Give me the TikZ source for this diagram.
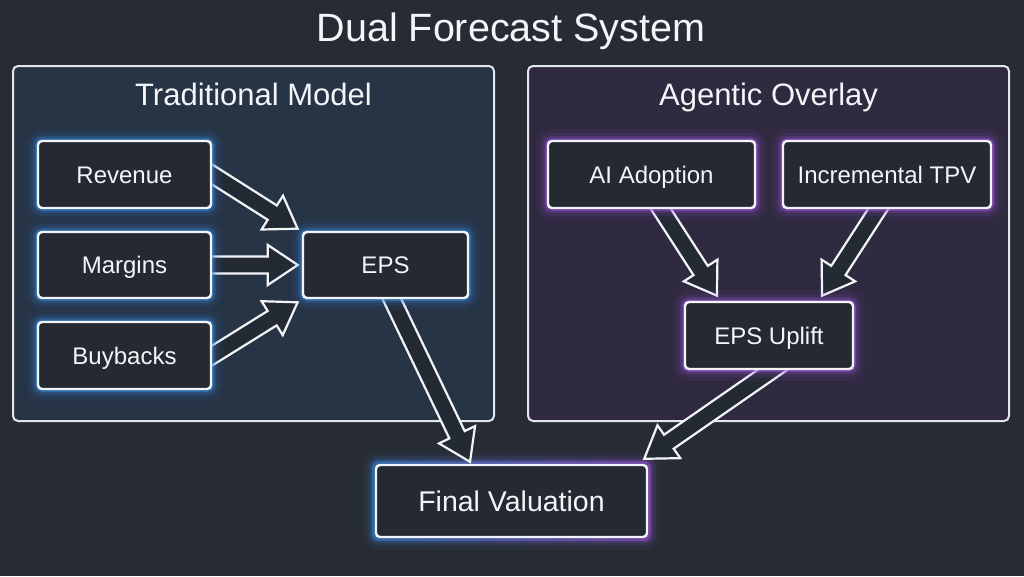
\documentclass[tikz,border=0pt]{standalone}
\usepackage{fontspec}
\setmainfont{Liberation Sans}
\usetikzlibrary{calc}
\definecolor{bgc}{HTML}{272C34}
\definecolor{lpanel}{HTML}{263446}
\definecolor{rpanel}{HTML}{2F2A40}
\definecolor{boxfill}{HTML}{252932}
\definecolor{boxline}{HTML}{F2F5F8}
\definecolor{panelline}{HTML}{E2E6EC}
\definecolor{txt}{HTML}{F3F5F8}
\definecolor{glowb}{HTML}{3A8EEA}
\definecolor{glowp}{HTML}{A456E6}
\definecolor{arrowfill}{HTML}{242A34}
\pgfdeclarelayer{bg}
\pgfdeclarelayer{mid}
\pgfsetlayers{bg,mid,main}
\tikzset{
  panel/.style={draw=panelline, line width=2pt, rounded corners=5pt, inner sep=0pt},
  paneltitle/.style={text=txt, font=\fontsize{31}{36}\selectfont, anchor=base, inner sep=0pt},
  box/.style={draw=boxline, line width=2.4pt, fill=boxfill, rounded corners=4pt, inner sep=0pt,
    text=txt, font=\fontsize{24}{28}\selectfont, text height=17.2pt, text depth=0pt},
  glow/.style={preaction={draw=#1, line width=24pt, opacity=0.05},
    preaction={draw=#1, line width=16pt, opacity=0.10},
    preaction={draw=#1, line width=10pt, opacity=0.18},
    preaction={draw=#1, line width=5.5pt, opacity=0.45}},
  harrow/.style={draw=boxline, line width=2.2pt, fill=arrowfill, line join=miter},
}
\newcommand\hollowarrow[2]{%
  \path #1 coordinate (ha-s);
  \path #2 coordinate (ha-e);
  \pgfpointdiff{\pgfpointanchor{ha-s}{center}}{\pgfpointanchor{ha-e}{center}}%
  \pgfgetlastxy{\hax}{\hay}%
  \pgfmathsetmacro\haang{atan2(\hay,\hax)}%
  \pgfmathsetmacro\halen{veclen(\hax,\hay)}%
  \pgfmathsetmacro\hahead{\halen-30}%
  \begin{scope}[shift={(ha-s)}, rotate=\haang]
    \draw[harrow] (-16pt,-8.5pt) -- (\hahead pt,-8.5pt) -- (\hahead pt,-20pt) -- (\halen pt,0pt)
      -- (\hahead pt,20pt) -- (\hahead pt,8.5pt) -- (-16pt,8.5pt) -- cycle;
  \end{scope}
}
\begin{document}
\begin{tikzpicture}[x=1pt, y=-1pt]
\begin{pgfonlayer}{bg}
  \fill[bgc] (0,0) rectangle (1024,576);
  \node[panel, fill=lpanel, minimum width=481, minimum height=355] (trad) at (253.5,243.5) {};
  \node[panel, fill=rpanel, minimum width=481, minimum height=355] (agent) at (768.5,243.5) {};
\end{pgfonlayer}
\useasboundingbox (0,0) rectangle (1024,576);

\node[text=txt, font=\fontsize{39.5}{44}\selectfont, anchor=base, inner sep=0pt] (title) at (511,41) {Dual Forecast System};
\node[paneltitle] (tradtitle) at (253.5,105) {Traditional Model};
\node[paneltitle] (agenttitle) at (768.5,105) {Agentic Overlay};

\node[box, glow=glowb, minimum width=173, minimum height=67] (rev) at (124.5,174.5) {Revenue};
\node[box, glow=glowb, minimum width=173, minimum height=66] (mar) at (124.5,265) {Margins};
\node[box, glow=glowb, minimum width=173, minimum height=67] (buy) at (124.5,355.5) {Buybacks};
\node[box, glow=glowb, minimum width=165, minimum height=66] (eps) at (385.5,265) {EPS};
\node[box, glow=glowp, minimum width=207, minimum height=67] (ai) at (651.5,174.5) {AI Adoption};
\node[box, glow=glowp, minimum width=208, minimum height=67] (tpv) at (887,174.5) {Incremental TPV};
\node[box, glow=glowp, minimum width=168, minimum height=67] (up) at (769,335.5) {EPS Uplift};
\node[box, font=\fontsize{28.5}{32}\selectfont, text height=20.4pt, minimum width=271, minimum height=72] (fin) at (511.5,501) {Final Valuation};

\begin{pgfonlayer}{mid}
  \foreach \g/\o in {12/0.05, 8/0.10, 5/0.18, 2.75/0.45}{
    \pgfmathsetmacro\rc{\g+4}
    \shade[left color=glowb, right color=glowp, opacity=\o, rounded corners=\rc pt]
      ($(fin.north west)+(-\g,-\g)$) rectangle ($(fin.south east)+(\g,\g)$);
  }
  \hollowarrow{(rev.east)}{($(eps.north west)+(-4,-2)$)}
  \hollowarrow{(mar.east)}{($(eps.west)+(-4,0)$)}
  \hollowarrow{(buy.east)}{($(eps.south west)+(-4,3)$)}
  \hollowarrow{($(eps.south)+(6.5,0)$)}{($(fin.north)+(-41.5,-2)$)}
  \hollowarrow{($(ai.south)+(9.5,0)$)}{($(up.north)+(-52,-5)$)}
  \hollowarrow{($(tpv.south)+(-9,0)$)}{($(up.north)+(53,-5)$)}
  \hollowarrow{($(up.south)+(3,0)$)}{($(fin.north east)+(-4,-5)$)}
\end{pgfonlayer}
\end{tikzpicture}
\end{document}
